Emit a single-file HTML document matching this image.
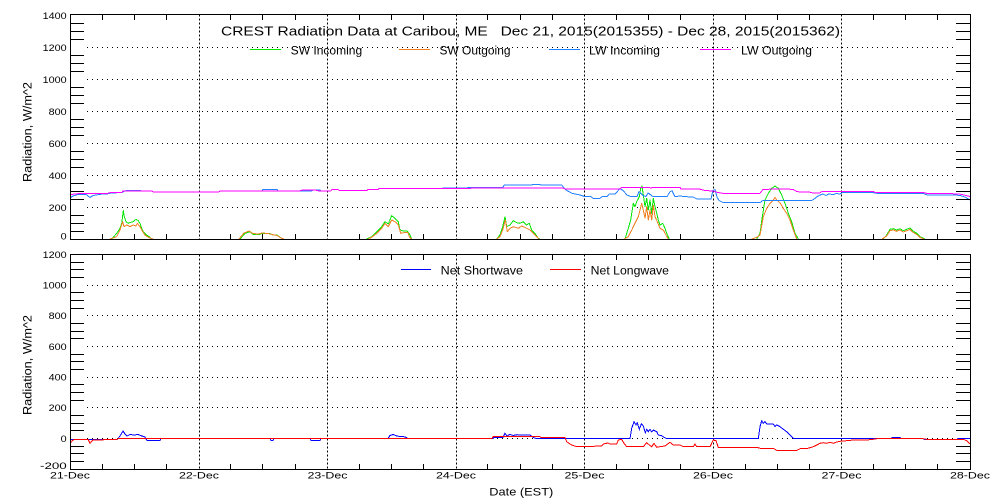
<!DOCTYPE html>
<html><head><meta charset="utf-8"><style>
html,body{margin:0;padding:0;background:#fff}
svg{display:block}
text{font-family:"Liberation Sans",sans-serif;fill:#000}
</style></head><body>
<svg width="1000" height="500" viewBox="0 0 1000 500" xmlns="http://www.w3.org/2000/svg">
<rect x="0" y="0" width="1000" height="500" fill="#fff"/>

<!-- ===== GRIDLINES ===== -->
<g stroke="#000" stroke-width="1" fill="none" shape-rendering="crispEdges">
  <!-- top horizontal dotted -->
  <path stroke-dasharray="1,4" d="M87 207.5H954M87 175.5H954M87 143.5H954M87 111.5H954M87 79.5H954M87 47.5H954"/>
  <!-- bottom horizontal dotted -->
  <path stroke-dasharray="1,4" d="M87 438.5H954M87 407.5H954M87 377.5H954M87 346.5H954M87 315.5H954M87 285.5H954"/>
  <!-- vertical day lines -->
  <path stroke-dasharray="2,2" d="M199.5 14.5V239.5M327.5 14.5V239.5M456.5 14.5V239.5M584.5 14.5V239.5M713.5 14.5V239.5M841.5 14.5V239.5"/>
  <path stroke-dasharray="2,2" d="M199.5 254.5V469.5M327.5 254.5V469.5M456.5 254.5V469.5M584.5 254.5V469.5M713.5 254.5V469.5M841.5 254.5V469.5"/>
</g>

<!-- ===== TOP SERIES ===== -->
<g fill="none" stroke-width="1" shape-rendering="crispEdges" stroke-linejoin="round">
  <g stroke="#00e600">
    <polyline points="111.7,239 116.7,233.3 120,228.3 121.7,223.3 123.3,210.7 124.3,216.7 126,221.7 128.3,223.3 130.7,222.3 133.3,221.7 136,219.3 138.3,220.7 140,223.3 141.7,228.3 143.3,231.7 146.7,235 150,237.3 151.7,239"/>
    <polyline points="240,239 245,233.3 250,231.7 253,234.3 260,234.3 262,233.3 270,233.5 273,235 277,235 280,237.3 283,239"/>
    <polyline points="366.7,239 371.7,236.7 376.7,231.7 381.7,226.7 385,221.7 388.3,224 391.7,215.7 395,218.3 398.3,221.7 400,230 403.3,231 407.3,231 410,235 411.7,239"/>
    <polyline points="496.7,239 500,235 502.7,226.7 505,216.7 506.7,226.7 510,225 513.3,220.7 516.7,222.7 520,223.3 523.3,221.7 526.7,225 529.3,223.3 531.7,230 535,233.3 538.3,238.3 540,239"/>
    <polyline points="625,239 628.3,228.3 630.7,220 633.3,203.3 635,206.7 636.7,201.7 639.3,196.7 640.7,188.3 642,186 643.3,195 645,206.7 646.7,198.3 648.3,210 650,200 651.7,213.3 653.3,198.3 655,206.7 656.7,213.3 658.3,220 660,225 662.7,223.3 665,228.3 666.7,233.3 669.3,239"/>
    <polyline points="756.7,239 760,233.3 762.3,216.7 765,200 768.3,193.3 771.7,188.3 775,186 778.3,188.3 781.7,195 785,203.3 788.3,213.3 791.7,221.7 795,233.3 798.3,239"/>
    <polyline points="883.3,239 886.7,235 890,229.3 893.3,228.7 896.7,230 900,228.7 903.3,230.7 906.7,229.3 910,228 912.7,230.7 916.7,233.3 920,236.7 925,239"/>
  </g>
  <g stroke="#f08020">
    <polyline points="110,239 116.7,236.7 120,230 122.7,221.7 124,226.7 126.7,225 130,226.7 133.3,225 136,226 137.3,223.3 140,226.7 142.7,231.7 145,235 148.3,237.3 153.3,239"/>
    <polyline points="239,239 244,233 249,231 253,233.5 258,234 262,233 268,233.5 272,234.5 277,235.5 281,238 284,239"/>
    <polyline points="368,239 371.7,237.3 376.7,233.3 381.7,228.3 385,223.3 388.3,226.7 391.7,220 395,221.7 398.3,225 400.7,233.3 404,232.7 408,232.7 409.3,236.7 411.7,239"/>
    <polyline points="496.7,239 500,236.7 502.7,230 505.3,220 507.3,231.7 510,228.3 513.3,226.7 518.3,228.3 521.7,226 526.7,228.3 530,230 533.3,233.3 536.7,236.7 539.3,239"/>
    <polyline points="624,239 628.3,236.7 631.7,230 635,223.3 638.3,216.7 641.7,203.3 643.3,210 645,218.3 646.7,206.7 648.3,220 650,210 651.7,220 653.3,205 655,216.7 657.3,221.7 660,228.3 663.3,230 666,235 668.3,239"/>
    <polyline points="751.7,239 756.7,237.3 760,235 763.3,216.7 766.7,208.3 770,203.3 773.3,200 775,197.3 776.7,200 780,202.7 783.3,208.3 786.7,213.3 790,220 793.3,230 796.7,239"/>
    <polyline points="882,239 886.7,236 890,230.7 893.3,230 896.7,231.3 900,230 903.3,232 906.7,230.7 910,229.5 912.7,232 916.7,234.5 920,237.5 924,239"/>
  </g>
  <!-- LW Incoming -->
  <polyline stroke="#2080ff" points="70,198 73,196 78,194.5 86,194.3 88,196 90,197.5 93,195.5 100,194.3 108,193.8 111,193 122,192.5 126,190.5 140,190.5 142,191.2 152,191.2 153,191.8 219,191.8 220,190.8 262,190.8 263,189.5 277,189.5 278,190.8 312,190.8 313,189.8 320,189.8 321,190.8 331,190.8 332,189.5 338,189.5 339,190.3 367,190.6 368,189.6 378,189.6 379,188.5 430,188.5 480,187.5 503,187.3 504,185.2 530,185.2 533,184.6 540,184.6 541,185.2 562,185.2 564,188 566,190 572,193.3 580,195 585,196.7 591,196.7 593,198.3 600,198.3 602,196.7 607,196.7 609,194.2 615,194.2 620,188.5 623,190.5 627,195 631,196.7 637,196.7 639,191.7 643,195.5 646,196.5 648,193 651,195 653,196.7 667,196.7 670,191.7 672,190.7 675,196.7 680,196 686,196.7 693,197 697,199 711,199 713,190.5 715,189.5 717,197 719,200.5 723,202.5 727,202.7 760,202.7 763,200.3 812,200.3 815,198.5 817,196.7 820,195 823,194 826,195.5 829,193.8 833,194.8 836,193.5 840,194 842,192.7 873,192.7 877,193.3 923,193.3 927,195 955,195 960,195.5 965,197 970,200"/>
  <!-- LW Outgoing -->
  <polyline stroke="#ff00ff" points="70,194.5 76,194 80,193.3 108,193.3 111,192.3 122,192.3 123,191 152,191 153,191.8 219,191.8 220,190.8 300,190.8 302,190.2 316,190.2 318,190.8 331,190.8 332,189.5 338,189.5 339,190.3 350,190.3 352,190.6 367,190.6 368,189.6 378,189.6 379,188.5 470,188.5 472,188 563,188 565,189 620,189 621,187.7 650,187.7 651,188.2 652,187.5 680,187.5 681,189 700,189.2 705,190.5 713,191 718,192.5 723,193.3 760,193.3 763,189.5 775,189 793,189.3 797,191.7 810,192.2 812,192.8 820,192.8 822,191.4 873,191.4 875,192.3 923,192.3 927,193.5 958,193.8 962,194.5 970,196.5"/>
</g>

<!-- ===== BOTTOM SERIES ===== -->
<g fill="none" stroke-width="1" shape-rendering="crispEdges">
  <polyline stroke="#0000ff" points="70,439.5 117,439.5 118,438.5 120,436 123,431 125,434 127,436 130,434.5 134,435 138,434.5 142,436 145,437 147,440.5 160,440.5 161,438.5 270,438.5 271,440.5 273,440.5 274,438.5 310,438.5 311,440.5 320,440.5 321,438.5 388,438.5 390,435.5 393,434.5 397,436 400,436.5 405,436.8 408,438.5 493,438.5 494,437.3 503,437.3 505,433.3 507,436 510,434.3 513,435.5 517,434.7 520,435 530,435 533,437.3 536,438.5 630,438.5 631.7,428.3 634,421.7 636,425 637.3,422.7 639.3,429.3 641.3,424 643.3,426 645.3,432.7 646.7,429.3 648.3,431.7 650,429.3 651.7,432 653.3,430 656.7,431.7 658.3,435 661.7,435.7 664,437.3 666.7,438.5 758.3,438.5 760,426.7 761.7,420.7 763.3,423.3 765,421.7 766.7,424 773.3,424 775,426.7 776.7,425 780,426.7 783.3,429.3 786.7,431.7 790,435 793.3,438.5 891.7,438.5 892,437.3 900,437.3 901,438.5 923,438.5 924,439.3 957,439.3 958,438.5 970,438.5"/>
  <polyline stroke="#ff0000" points="70.7,442.7 73,440 76,439.3 88,439.3 90,443.3 93,440 103,440 104,439.3 117,439.3 118,438.5 492,438.5 493,436.7 540,436.7 541,437.5 565,437.5 566.7,441.7 571.7,445 576.7,446.7 593.3,446.7 595,446 601.7,446 603.3,444 608,443 610,444 616.7,444 618.3,440 621.7,439.3 624,443.3 626.7,446.7 643.3,446.7 646.7,442.7 649.3,445 651.7,446.7 654,443.3 656.7,447.3 660,446.7 665,446 670,442.3 673.3,445 680,445 683.3,446.7 693.3,446.7 695,444 696.7,446.7 710,446.7 713.3,440 716,440.7 718.3,447.3 756.7,447.3 760,448.3 773.3,448.3 776.7,450.3 797,450.3 800,448.7 806.7,448.7 813.3,446.7 816.7,445 820,443.3 823.3,442.7 826.7,443.3 830,442.3 833.3,443.3 836.7,442 840,441.3 846.7,440.7 853.3,440 866.7,440 873.3,439.3 876.7,438.7 923.3,438.7 926.7,439.3 963.3,439.3 966.7,440.7 970,444"/>
</g>

<!-- ===== AXES / TICKS ===== -->
<g stroke="#000" stroke-width="1" fill="none" shape-rendering="crispEdges">
  <rect x="70.5" y="14.5" width="900" height="225"/>
  <rect x="70.5" y="254.5" width="900" height="215"/>
  <!-- top panel y minor ticks -->
  <path d="M70 231.5H84M70 223.5H84M70 215.5H84M70 199.5H84M70 191.5H84M70 183.5H84M70 167.5H84M70 159.5H84M70 151.5H84M70 135.5H84M70 127.5H84M70 119.5H84M70 103.5H84M70 95.5H84M70 87.5H84M70 71.5H84M70 63.5H84M70 55.5H84M70 39.5H84M70 31.5H84M70 23.5H84"/>
  <path d="M956 231.5H970M956 223.5H970M956 215.5H970M956 199.5H970M956 191.5H970M956 183.5H970M956 167.5H970M956 159.5H970M956 151.5H970M956 135.5H970M956 127.5H970M956 119.5H970M956 103.5H970M956 95.5H970M956 87.5H970M956 71.5H970M956 63.5H970M956 55.5H970M956 39.5H970M956 31.5H970M956 23.5H970"/>
  <!-- bottom panel y minor ticks -->
  <path d="M70 461.5H84M70 453.5H84M70 446.5H84M70 430.5H84M70 423.5H84M70 415.5H84M70 400.5H84M70 392.5H84M70 384.5H84M70 369.5H84M70 361.5H84M70 354.5H84M70 338.5H84M70 331.5H84M70 323.5H84M70 308.5H84M70 300.5H84M70 292.5H84M70 277.5H84M70 269.5H84M70 262.5H84"/>
  <path d="M956 461.5H970M956 453.5H970M956 446.5H970M956 430.5H970M956 423.5H970M956 415.5H970M956 400.5H970M956 392.5H970M956 384.5H970M956 369.5H970M956 361.5H970M956 354.5H970M956 338.5H970M956 331.5H970M956 323.5H970M956 308.5H970M956 300.5H970M956 292.5H970M956 277.5H970M956 269.5H970M956 262.5H970"/>
  <!-- x minor ticks -->
  <path d="M102.5 239V234M134.5 239V234M166.5 239V234M230.5 239V234M262.5 239V234M295.5 239V234M359.5 239V234M391.5 239V234M423.5 239V234M487.5 239V234M520.5 239V234M552.5 239V234M616.5 239V234M648.5 239V234M680.5 239V234M745.5 239V234M777.5 239V234M809.5 239V234M873.5 239V234M905.5 239V234M937.5 239V234"/>
  <path d="M102.5 15V20M134.5 15V20M166.5 15V20M230.5 15V20M262.5 15V20M295.5 15V20M359.5 15V20M391.5 15V20M423.5 15V20M487.5 15V20M520.5 15V20M552.5 15V20M616.5 15V20M648.5 15V20M680.5 15V20M745.5 15V20M777.5 15V20M809.5 15V20M873.5 15V20M905.5 15V20M937.5 15V20"/>
  <path d="M102.5 469V464M134.5 469V464M166.5 469V464M230.5 469V464M262.5 469V464M295.5 469V464M359.5 469V464M391.5 469V464M423.5 469V464M487.5 469V464M520.5 469V464M552.5 469V464M616.5 469V464M648.5 469V464M680.5 469V464M745.5 469V464M777.5 469V464M809.5 469V464M873.5 469V464M905.5 469V464M937.5 469V464"/>
  <path d="M102.5 255V260M134.5 255V260M166.5 255V260M230.5 255V260M262.5 255V260M295.5 255V260M359.5 255V260M391.5 255V260M423.5 255V260M487.5 255V260M520.5 255V260M552.5 255V260M616.5 255V260M648.5 255V260M680.5 255V260M745.5 255V260M777.5 255V260M809.5 255V260M873.5 255V260M905.5 255V260M937.5 255V260"/>
</g>

<!-- ===== LEGENDS ===== -->
<g stroke-width="1" shape-rendering="crispEdges">
  <path stroke="#00e600" d="M250 49.5H281"/>
  <path stroke="#f08020" d="M399 49.5H430"/>
  <path stroke="#2080ff" d="M549 49.5H580"/>
  <path stroke="#ff00ff" d="M700 49.5H731"/>
  <path stroke="#0000ff" d="M401 269.5H431"/>
  <path stroke="#ff0000" d="M550 269.5H581"/>
</g>
<g font-size="11.5">
  <text x="290.7" y="54.7" textLength="71.5" lengthAdjust="spacingAndGlyphs">SW Incoming</text>
  <text x="439.5" y="54.7" textLength="71" lengthAdjust="spacingAndGlyphs">SW Outgoing</text>
  <text x="589" y="54.7" textLength="71" lengthAdjust="spacingAndGlyphs">LW Incoming</text>
  <text x="741" y="54.7" textLength="71" lengthAdjust="spacingAndGlyphs">LW Outgoing</text>
  <text x="440.7" y="274.5" textLength="82.3" lengthAdjust="spacingAndGlyphs">Net Shortwave</text>
  <text x="590.7" y="274.5" textLength="78.3" lengthAdjust="spacingAndGlyphs">Net Longwave</text>
</g>

<!-- ===== TITLE ===== -->
<text x="221" y="35.5" font-size="13" textLength="619" lengthAdjust="spacingAndGlyphs" style="white-space:pre">CREST Radiation Data at Caribou, ME   Dec 21, 2015(2015355) - Dec 28, 2015(2015362)</text>

<!-- ===== Y TICK LABELS ===== -->
<g font-size="9.5">
  <text x="60.7" y="239.3" textLength="6" lengthAdjust="spacingAndGlyphs">0</text>
  <text x="48.7" y="211" textLength="18" lengthAdjust="spacingAndGlyphs">200</text>
  <text x="48.7" y="179" textLength="18" lengthAdjust="spacingAndGlyphs">400</text>
  <text x="48.7" y="147" textLength="18" lengthAdjust="spacingAndGlyphs">600</text>
  <text x="48.7" y="115" textLength="18" lengthAdjust="spacingAndGlyphs">800</text>
  <text x="42.7" y="83" textLength="24" lengthAdjust="spacingAndGlyphs">1000</text>
  <text x="42.7" y="51" textLength="24" lengthAdjust="spacingAndGlyphs">1200</text>
  <text x="42.7" y="19" textLength="24" lengthAdjust="spacingAndGlyphs">1400</text>

  <text x="40" y="469" textLength="26.7" lengthAdjust="spacingAndGlyphs">-200</text>
  <text x="60.7" y="441.8" textLength="6" lengthAdjust="spacingAndGlyphs">0</text>
  <text x="48.7" y="411.2" textLength="18" lengthAdjust="spacingAndGlyphs">200</text>
  <text x="48.7" y="380.5" textLength="18" lengthAdjust="spacingAndGlyphs">400</text>
  <text x="48.7" y="349.9" textLength="18" lengthAdjust="spacingAndGlyphs">600</text>
  <text x="48.7" y="319.2" textLength="18" lengthAdjust="spacingAndGlyphs">800</text>
  <text x="42.7" y="288.6" textLength="24" lengthAdjust="spacingAndGlyphs">1000</text>
  <text x="42.7" y="258" textLength="24" lengthAdjust="spacingAndGlyphs">1200</text>
</g>

<!-- ===== X LABELS ===== -->
<g font-size="9.5">
  <text x="50" y="478.5" textLength="40" lengthAdjust="spacingAndGlyphs">21-Dec</text>
  <text x="179" y="478.5" textLength="40" lengthAdjust="spacingAndGlyphs">22-Dec</text>
  <text x="307.5" y="478.5" textLength="40" lengthAdjust="spacingAndGlyphs">23-Dec</text>
  <text x="436" y="478.5" textLength="40" lengthAdjust="spacingAndGlyphs">24-Dec</text>
  <text x="564.5" y="478.5" textLength="40" lengthAdjust="spacingAndGlyphs">25-Dec</text>
  <text x="693" y="478.5" textLength="40" lengthAdjust="spacingAndGlyphs">26-Dec</text>
  <text x="821.5" y="478.5" textLength="40" lengthAdjust="spacingAndGlyphs">27-Dec</text>
  <text x="950" y="478.5" textLength="40" lengthAdjust="spacingAndGlyphs">28-Dec</text>
</g>
<text x="489.3" y="495.5" font-size="11" textLength="64" lengthAdjust="spacingAndGlyphs">Date (EST)</text>

<!-- ===== Y AXIS TITLES ===== -->
<text transform="translate(31.7,182) rotate(-90)" x="0" y="0" font-size="11.5" textLength="100" lengthAdjust="spacingAndGlyphs">Radiation, W/m^2</text>
<text transform="translate(31.7,415) rotate(-90)" x="0" y="0" font-size="11.5" textLength="100" lengthAdjust="spacingAndGlyphs">Radiation, W/m^2</text>
</svg>
</body></html>
